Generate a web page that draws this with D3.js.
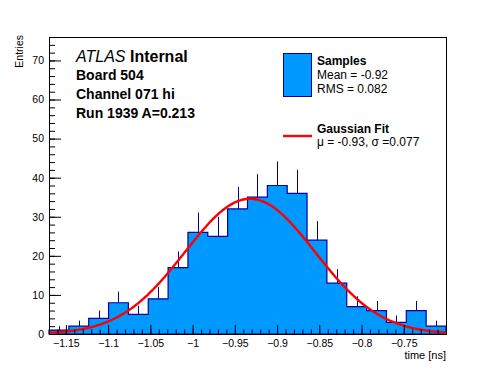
<!DOCTYPE html>
<html>
<head>
  <meta charset="utf-8">
  <title>time histogram</title>
  <style>
    body { margin: 0; background: #fff; }
    svg { display: block; font-family: "Liberation Sans", Arial, sans-serif; }
  </style>
</head>
<body>
  <svg width="496" height="372"></svg>
  <script src="https://d3js.org/d3.v7.min.js"></script>
  <script>
    // histogram: 20 bins between -1.17 and -0.70 ns
    const binLow = -1.17, binHigh = -0.70;
    const counts = [1, 2, 4, 8, 5, 9, 17, 26, 25, 32, 35, 38, 36, 24, 13, 7, 6, 3, 6, 2];
    // gaussian fit parameters
    const fitMu = -0.932, fitSigma = 0.077, fitAmp = 34.6;
    const xTicks = [-1.15, -1.1, -1.05, -1, -0.95, -0.9, -0.85, -0.8, -0.75];
    const yTicks = [0, 10, 20, 30, 40, 50, 60, 70];
    const infoLines = ["Board 504", "Channel 071 hi", "Run 1939 A=0.213"];

    const svg = d3.select("svg");
    const pL = 49, pR = 446, pT = 37, pB = 334;

    const x = d3.scaleLinear().domain([binLow, binHigh]).range([pL, pR]);
    const y = d3.scaleLinear().domain([0, 76]).range([pB, pT]);

    const bw = (binHigh - binLow) / counts.length;
    const bins = counts.map((c, i) => ({ x0: binLow + i * bw, x1: binLow + (i + 1) * bw, n: c }));

    const dark = "#000099", fill = "#0099ff";

    // error bars (upper half only, the fill hides the rest)
    svg.append("g").selectAll("line").data(bins).enter().append("line")
      .attr("x1", d => Math.round(x((d.x0 + d.x1) / 2)) + 0.5)
      .attr("x2", d => Math.round(x((d.x0 + d.x1) / 2)) + 0.5)
      .attr("y1", d => y(d.n))
      .attr("y2", d => y(d.n + Math.sqrt(d.n)))
      .attr("stroke", dark).attr("stroke-width", 1);

    // histogram steps
    let pts = [[x(binLow), y(0)]];
    bins.forEach(d => { pts.push([x(d.x0), y(d.n)]); pts.push([x(d.x1), y(d.n)]); });
    pts.push([x(binHigh), y(0)]);
    const step = d3.line();
    svg.append("path").attr("d", step(pts) + "Z")
      .attr("fill", fill).attr("stroke", dark).attr("stroke-width", 1.2);

    // fit curve
    const fx = d3.range(0, 301).map(i => binLow + (binHigh - binLow) * i / 300);
    const gaus = t => fitAmp * Math.exp(-0.5 * Math.pow((t - fitMu) / fitSigma, 2));
    svg.append("path")
      .attr("d", d3.line().x(t => x(t)).y(t => y(gaus(t)))(fx))
      .attr("fill", "none").attr("stroke", "#ff0000").attr("stroke-width", 2.4);

    // axes
    const xMinor = d3.range(0, 48).map(i => +(binLow + i * 0.01).toFixed(2));
    svg.append("g").attr("transform", `translate(0,${pB})`)
      .call(d3.axisBottom(x).tickValues(xMinor).tickSizeInner(-4.5).tickSizeOuter(0).tickFormat(""))
      .call(g => g.select(".domain").remove());
    svg.append("g").attr("transform", `translate(0,${pB})`)
      .call(d3.axisBottom(x).tickValues(xTicks).tickSizeInner(-9).tickSizeOuter(0).tickPadding(6)
        .tickFormat(d3.format("~g")))
      .call(g => g.select(".domain").remove())
      .call(g => g.selectAll("text").attr("font-size", 10.5).attr("fill", "#000").attr("font-family", null));

    const yMinor = d3.range(0, 77, 2);
    svg.append("g").attr("transform", `translate(${pL},0)`)
      .call(d3.axisLeft(y).tickValues(yMinor).tickSizeInner(-6).tickSizeOuter(0).tickFormat(""))
      .call(g => g.select(".domain").remove());
    svg.append("g").attr("transform", `translate(${pL},0)`)
      .call(d3.axisLeft(y).tickValues(yTicks).tickSizeInner(-12).tickSizeOuter(0).tickPadding(5))
      .call(g => g.select(".domain").remove())
      .call(g => g.selectAll("text").attr("font-size", 10.5).attr("fill", "#000").attr("font-family", null));
    svg.selectAll(".tick line").attr("stroke", "#000");

    // frame
    svg.append("rect").attr("x", pL + 0.5).attr("y", pT + 0.5)
      .attr("width", pR - pL).attr("height", pB - pT)
      .attr("fill", "none").attr("stroke", "#000").attr("stroke-width", 1);

    // axis titles
    svg.append("text").attr("x", pR).attr("y", 359).attr("text-anchor", "end")
      .attr("font-size", 11).text("time [ns]");
    svg.append("text").attr("transform", "translate(23,35) rotate(-90)")
      .attr("text-anchor", "end").attr("font-size", 10.5).text("Entries");

    // ATLAS label
    const atl = svg.append("text").attr("x", 76).attr("y", 62).attr("font-size", 16);
    atl.append("tspan").attr("font-style", "italic").text("ATLAS");
    atl.append("tspan").attr("font-weight", "bold").text(" Internal");
    svg.append("g").selectAll("text").data(infoLines).enter().append("text")
      .attr("x", 76).attr("y", (d, i) => 80 + i * 19)
      .attr("font-size", 14).attr("font-weight", "bold").text(d => d);

    // legend
    svg.append("rect").attr("x", 283.5).attr("y", 53.5).attr("width", 28).attr("height", 43)
      .attr("fill", fill).attr("stroke", dark).attr("stroke-width", 1);
    svg.append("text").attr("x", 317).attr("y", 65).attr("font-size", 12).attr("font-weight", "bold").text("Samples");
    svg.append("text").attr("x", 317).attr("y", 79).attr("font-size", 12).text("Mean = -0.92");
    svg.append("text").attr("x", 317).attr("y", 93).attr("font-size", 12).text("RMS = 0.082");
    svg.append("line").attr("x1", 283).attr("x2", 312).attr("y1", 136).attr("y2", 136)
      .attr("stroke", "#ff0000").attr("stroke-width", 2.4);
    svg.append("text").attr("x", 317).attr("y", 133).attr("font-size", 12).attr("font-weight", "bold").text("Gaussian Fit");
    svg.append("text").attr("x", 317).attr("y", 146).attr("font-size", 12).text("\u03bc = -0.93, \u03c3 =0.077");
  </script>
</body>
</html>
